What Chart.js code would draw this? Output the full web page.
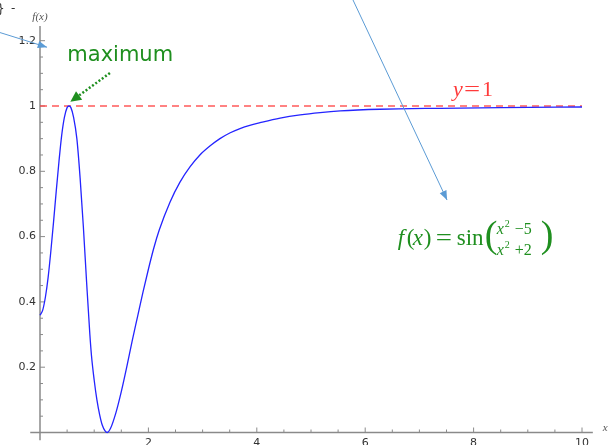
<!DOCTYPE html>
<html>
<head>
<meta charset="utf-8">
<script src="https://cdn.jsdelivr.net/npm/chart.js@4/dist/chart.umd.min.js"></script>
<style>
  html, body { margin: 0; padding: 0; background: #ffffff; }
  #wrap { width: 609px; height: 445px; }
</style>
</head>
<body>
<div id="wrap"><canvas id="plot" width="609" height="445"></canvas></div>
<script>
// Sampled curve f(x)
const curveX = [0, 0.05, 0.1, 0.15, 0.2, 0.25, 0.3, 0.35, 0.4, 0.45, 0.5, 0.535, 0.57, 0.62, 0.68, 0.74, 0.80, 0.86, 0.92, 0.95, 1.0, 1.05, 1.1, 1.15, 1.2, 1.24, 1.3, 1.4, 1.5, 1.6, 1.7, 1.8, 1.9, 2.0, 2.1, 2.2, 2.4, 2.58, 2.77, 2.95, 3.14, 3.32, 3.51, 3.69, 3.87, 4.06, 4.43, 4.8, 5.17, 5.54, 6.27, 7.38, 8.5, 10];
const curveY = [0.359, 0.375, 0.415, 0.475, 0.555, 0.645, 0.74, 0.83, 0.91, 0.965, 0.995, 1.0, 0.995, 0.965, 0.90, 0.78, 0.63, 0.46, 0.30, 0.235, 0.16, 0.10, 0.055, 0.022, 0.005, 0.0, 0.012, 0.06, 0.125, 0.20, 0.28, 0.355, 0.43, 0.50, 0.565, 0.62, 0.706, 0.766, 0.814, 0.85, 0.878, 0.90, 0.918, 0.931, 0.941, 0.949, 0.963, 0.973, 0.98, 0.985, 0.99, 0.993, 0.995, 0.997];

// Horizontal reference line y = 1
const refX = [0, 10];
const refY = [1, 1];

// Axis ticks
const xMajorTicks = [2, 4, 6, 8, 10];
const yMajorTicks = [0.2, 0.4, 0.6, 0.8, 1, 1.2];
const yTickLabels = ['0.2', '0.4', '0.6', '0.8', '1', '1.2'];

const curvePoints = curveX.map((x, i) => ({ x: x, y: curveY[i] }));
const refPoints = refX.map((x, i) => ({ x: x, y: refY[i] }));

const GREEN = '#1f8f1f';
const AXIS = '#8a8a8a';

// Draws the axes through the origin, ticks, labels and annotations
const decorations = {
  id: 'decorations',
  beforeDatasetsDraw(chart) {
    const { ctx, scales: { x: sx, y: sy } } = chart;
    const px = v => sx.getPixelForValue(v);
    const py = v => sy.getPixelForValue(v);
    ctx.save();
    // axes
    ctx.strokeStyle = AXIS;
    ctx.lineWidth = 1.5;
    ctx.beginPath();
    ctx.moveTo(px(-0.18), py(0)); ctx.lineTo(px(10.2), py(0));
    ctx.moveTo(px(0), py(1.245)); ctx.lineTo(px(0), py(-0.024));
    ctx.stroke();
    // x ticks
    ctx.lineWidth = 1;
    ctx.beginPath();
    for (let t = 0.5; t <= 10.001; t += 0.5) {
      const major = Math.abs(t / 2 - Math.round(t / 2)) < 1e-6;
      const len = major ? 5 : 3;
      ctx.moveTo(px(t), py(0)); ctx.lineTo(px(t), py(0) - len);
    }
    // y ticks
    for (let t = 0.05; t <= 1.2001; t += 0.05) {
      const major = Math.abs(t / 0.2 - Math.round(t / 0.2)) < 1e-6;
      const len = major ? 5 : 3;
      ctx.moveTo(px(0), py(t)); ctx.lineTo(px(0) + len, py(t));
    }
    ctx.stroke();
    // tick labels
    ctx.fillStyle = '#333333';
    ctx.font = '11px "DejaVu Sans"';
    ctx.textAlign = 'right';
    ctx.textBaseline = 'middle';
    yMajorTicks.forEach((t, i) => ctx.fillText(yTickLabels[i], px(0) - 4, py(t)));
    ctx.textAlign = 'center';
    ctx.textBaseline = 'top';
    xMajorTicks.forEach(t => ctx.fillText(String(t), px(t), py(0) + 5));
    // axis names
    ctx.fillStyle = '#555555';
    ctx.font = 'italic 11px "Liberation Serif"';
    ctx.textAlign = 'center';
    ctx.textBaseline = 'middle';
    ctx.fillText('f(x)', px(0), 17);
    ctx.textAlign = 'left';
    ctx.fillText('x', px(10.2) + 10, py(0) - 4);
    ctx.restore();
  },
  afterDatasetsDraw(chart) {
    const { ctx, scales: { x: sx, y: sy } } = chart;
    const px = v => sx.getPixelForValue(v);
    const py = v => sy.getPixelForValue(v);
    ctx.save();

    const arrowHead = (x1, y1, x2, y2, size, wide, color) => {
      const a = Math.atan2(y2 - y1, x2 - x1);
      ctx.fillStyle = color;
      ctx.beginPath();
      ctx.moveTo(x2, y2);
      ctx.lineTo(x2 - size * Math.cos(a - wide), y2 - size * Math.sin(a - wide));
      ctx.lineTo(x2 - size * Math.cos(a + wide), y2 - size * Math.sin(a + wide));
      ctx.closePath();
      ctx.fill();
    };

    // light-blue pointer arrows
    const blue = '#5b9bd5';
    ctx.strokeStyle = blue;
    ctx.lineWidth = 1;
    [[-0.74, 1.225, 0.13, 1.18], [5.76, 1.33, 7.51, 0.712]].forEach(a => {
      const x1 = px(a[0]), y1 = py(a[1]), x2 = px(a[2]), y2 = py(a[3]);
      ctx.beginPath(); ctx.moveTo(x1, y1); ctx.lineTo(x2, y2); ctx.stroke();
      arrowHead(x1, y1, x2, y2, 10, 0.38, blue);
    });

    // "maximum" label with dotted arrow
    ctx.fillStyle = GREEN;
    ctx.font = '21px "DejaVu Sans"';
    ctx.textAlign = 'center';
    ctx.textBaseline = 'middle';
    ctx.fillText('maximum', px(1.48), py(1.153));
    {
      const x1 = px(1.29), y1 = py(1.101), x2 = px(0.56), y2 = py(1.013);
      const a = Math.atan2(y2 - y1, x2 - x1);
      ctx.strokeStyle = GREEN;
      ctx.lineWidth = 2.5;
      ctx.setLineDash([2, 2]);
      ctx.beginPath(); ctx.moveTo(x1, y1); ctx.lineTo(x2 - 9 * Math.cos(a), y2 - 9 * Math.sin(a)); ctx.stroke();
      ctx.setLineDash([]);
      arrowHead(x1, y1, x2, y2, 12, 0.45, GREEN);
    }

    // "y=1" label
    ctx.fillStyle = '#ff3a3a';
    ctx.textAlign = 'left';
    ctx.textBaseline = 'alphabetic';
    const yl = px(7.62), yb = py(1.03);
    ctx.font = 'italic 22px "Liberation Serif"';
    ctx.fillText('y', yl, yb);
    ctx.font = '22px "Liberation Serif"';
    ctx.save();
    ctx.translate(yl + 11, yb);
    ctx.scale(1.3, 1);
    ctx.fillText('=', 0, 0);
    ctx.restore();
    ctx.fillText('1', yl + 29, yb);

    // formula f(x) = sin((x^2-5)/(x^2+2))
    ctx.fillStyle = GREEN;
    const fx = px(6.6), fb = py(0.575);
    const it = '"Liberation Serif"';
    ctx.font = 'italic 23px ' + it; ctx.fillText('f', fx, fb);
    ctx.font = '23px ' + it; ctx.fillText('(', fx + 9, fb);
    ctx.font = 'italic 23px ' + it; ctx.fillText('x', fx + 15, fb);
    ctx.font = '23px ' + it; ctx.fillText(')', fx + 26, fb);
    ctx.save();
    ctx.translate(fx + 38, fb);
    ctx.scale(1.25, 1);
    ctx.fillText('=', 0, 0);
    ctx.restore();
    ctx.fillText('sin', fx + 59, fb);
    ctx.font = '38px ' + it;
    ctx.fillText('(', fx + 87, fb + 2);
    ctx.fillText(')', fx + 143, fb + 2);
    // numerator
    const nb = fb - 11, db = fb + 10;
    ctx.font = 'italic 16px ' + it; ctx.fillText('x', fx + 99, nb);
    ctx.font = '10px ' + it; ctx.fillText('2', fx + 107, nb - 7);
    ctx.font = '16px ' + it; ctx.fillText('\u22125', fx + 117, nb);
    // denominator
    ctx.font = 'italic 16px ' + it; ctx.fillText('x', fx + 99, db);
    ctx.font = '10px ' + it; ctx.fillText('2', fx + 107, db - 7);
    ctx.font = '16px ' + it; ctx.fillText('+2', fx + 117, db);

    // clipped fragment at the top-left corner
    ctx.fillStyle = '#333333';
    ctx.font = '12px "DejaVu Sans"';
    ctx.fillText('}', -3, 13);
    ctx.fillText('-', 11, 12);
    ctx.restore();
  }
};

// pixel scale: x 0 -> 40px, 10 -> 582px; y 0 -> 432.5px, 1 -> 106px
const W = 609, H = 445;
const xPer = 54.2, x0px = 40;
const yPer = 326.5, y0px = 432.5;

new Chart(document.getElementById('plot'), {
  type: 'scatter',
  data: {
    datasets: [
      {
        data: refPoints,
        showLine: true,
        borderColor: 'rgba(255, 60, 60, 0.85)',
        borderWidth: 1.4,
        borderDash: [7, 5],
        pointRadius: 0,
        order: 2
      },
      {
        data: curvePoints,
        showLine: true,
        borderColor: '#2424ff',
        borderWidth: 1.3,
        pointRadius: 0,
        cubicInterpolationMode: 'monotone',
        order: 1
      }
    ]
  },
  options: {
    responsive: false,
    animation: false,
    events: [],
    layout: { padding: 0 },
    plugins: { legend: { display: false }, tooltip: { enabled: false } },
    scales: {
      x: { type: 'linear', display: false, min: -x0px / xPer, max: (W - x0px) / xPer },
      y: { type: 'linear', display: false, min: -(H - y0px) / yPer, max: y0px / yPer }
    }
  },
  plugins: [decorations]
});
</script>
</body>
</html>
